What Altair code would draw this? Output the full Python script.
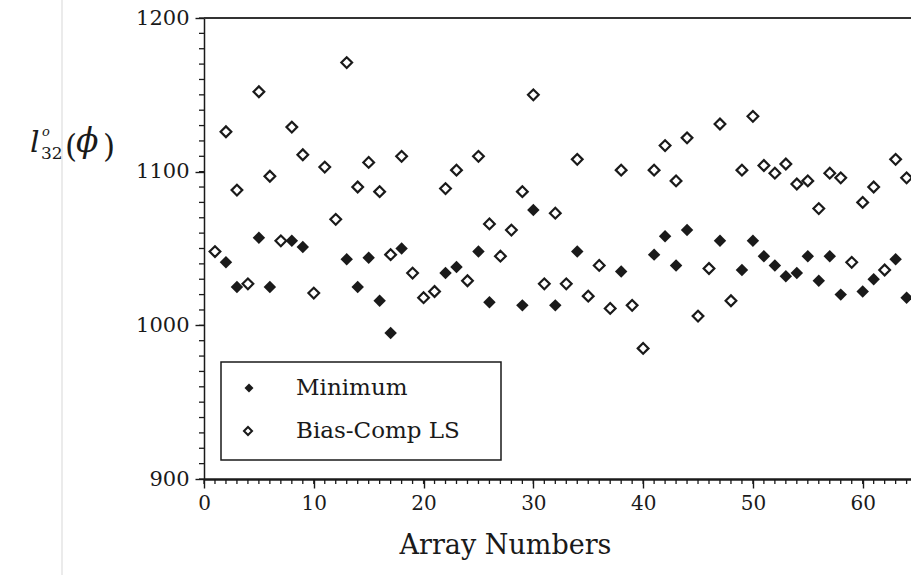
import altair as alt
import pandas as pd

# ---- data ----
arrays_bias = list(range(1, 65))
bias_comp_ls = [1048, 1126, 1088, 1027, 1152, 1097, 1055, 1129, 1111, 1021,
                1103, 1069, 1171, 1090, 1106, 1087, 1046, 1110, 1034, 1018,
                1022, 1089, 1101, 1029, 1110, 1066, 1045, 1062, 1087, 1150,
                1027, 1073, 1027, 1108, 1019, 1039, 1011, 1101, 1013, 985,
                1101, 1117, 1094, 1122, 1006, 1037, 1131, 1016, 1101, 1136,
                1104, 1099, 1105, 1092, 1094, 1076, 1099, 1096, 1041, 1080,
                1090, 1036, 1108, 1096]

arrays_min = [2, 3, 5, 6, 8, 9, 13, 14, 15, 16, 17, 18, 22, 23, 25, 26, 29, 30,
              32, 34, 38, 41, 42, 43, 44, 47, 49, 50, 51, 52, 53, 54, 55, 56,
              57, 58, 60, 61, 63, 64]
minimum = [1041, 1025, 1057, 1025, 1055, 1051, 1043, 1025, 1044, 1016, 995, 1050,
           1034, 1038, 1048, 1015, 1013, 1075, 1013, 1048, 1035, 1046, 1058, 1039,
           1062, 1055, 1036, 1055, 1045, 1039, 1032, 1034, 1045, 1029, 1045, 1020,
           1022, 1030, 1043, 1018]

x_major = [0, 10, 20, 30, 40, 50, 60]
y_major = [900, 1000, 1100, 1200]
x_minor = list(range(0, 65))
y_minor = list(range(900, 1201, 10))

series_names = ["Minimum", "Bias-Comp LS"]
x_title = "Array Numbers"

# ---- layout ----
W, H = 707, 461
FONT = "DejaVu Serif"
INK = "#1a1a1a"

xs = alt.Scale(domain=[0, 64.4], nice=False, zero=False)
ys = alt.Scale(domain=[900, 1200], nice=False, zero=False)

df_b = pd.DataFrame({"array": arrays_bias, "value": bias_comp_ls})
df_m = pd.DataFrame({"array": arrays_min, "value": minimum})
one = pd.DataFrame({"a": [0]})

x_axis = alt.Axis(values=x_major, title=x_title, grid=False, format="d",
                  labelFont=FONT, labelFontSize=20, labelColor=INK, labelPadding=5,
                  labelFlush=False, ticks=True, tickSize=9, tickColor=INK, tickWidth=1.4,
                  domainColor=INK, domainWidth=2.5,
                  titleFont=FONT, titleFontSize=27, titleFontWeight="normal",
                  titleColor=INK, titleX=301, titleY=66, titleBaseline="middle",
                  titleAlign="center")
y_axis = alt.Axis(values=y_major, title=None, grid=False, format="d",
                  labelFont=FONT, labelFontSize=21, labelColor=INK, labelPadding=6,
                  labelFlush=False, ticks=True, tickSize=9, tickColor=INK, tickWidth=1.4,
                  domainColor=INK, domainWidth=1.5)

X = lambda f: alt.X(f, scale=xs, axis=x_axis)
Y = lambda f: alt.Y(f, scale=ys, axis=y_axis)

open_pts = alt.Chart(df_b).mark_point(
    shape="diamond", filled=False, size=115, strokeWidth=2.2, color=INK, opacity=1
).encode(x=X("array:Q"), y=Y("value:Q"))

filled_pts = alt.Chart(df_m).mark_point(
    shape="diamond", filled=True, size=155, color=INK, opacity=1
).encode(x=X("array:Q"), y=Y("value:Q"))

x_minor_ticks = alt.Chart(pd.DataFrame({"tx": x_minor})).mark_rule(
    color=INK, strokeWidth=1.3
).encode(x=X("tx:Q"), y=alt.value(H), y2=alt.value(H + 5))

y_minor_ticks = alt.Chart(pd.DataFrame({"ty": y_minor})).mark_rule(
    color=INK, strokeWidth=1.3
).encode(y=Y("ty:Q"), x=alt.value(0), x2=alt.value(-5))

top_border = alt.Chart(one).mark_rule(color="#333333", strokeWidth=2).encode(
    x=alt.value(0), x2=alt.value(W), y=alt.value(0)
)

scan_line = alt.Chart(one).mark_rule(color="#e4e4e4", strokeWidth=1.5).encode(
    x=alt.value(-142), y=alt.value(-18), y2=alt.value(H + 96)
)

# ---- legend box ----
legend_box = alt.Chart(one).mark_rect(fill="white", stroke=INK, strokeWidth=1.5).encode(
    x=alt.value(17), x2=alt.value(297), y=alt.value(344), y2=alt.value(442)
)
leg_filled = alt.Chart(one).mark_point(shape="diamond", filled=True, size=80,
                                       color=INK, opacity=1).encode(
    x=alt.value(45), y=alt.value(370))
leg_open = alt.Chart(one).mark_point(shape="diamond", filled=False, size=65,
                                     strokeWidth=2, color=INK, opacity=1).encode(
    x=alt.value(44), y=alt.value(413))
leg_t1 = alt.Chart(one).mark_text(text=series_names[0], font=FONT, fontSize=23,
                                  align="left", baseline="middle", color=INK).encode(
    x=alt.value(92), y=alt.value(370))
leg_t2 = alt.Chart(one).mark_text(text=series_names[1], font=FONT, fontSize=23,
                                  align="left", baseline="middle", color=INK).encode(
    x=alt.value(92), y=alt.value(413))

# ---- y-axis title  l°_32(ϕ) ----
def piece(txt, x, y, size, italic=False):
    return alt.Chart(one).mark_text(
        text=txt, font=FONT, fontSize=size, fontStyle="italic" if italic else "normal",
        align="left", baseline="alphabetic", color=INK
    ).encode(x=alt.value(x), y=alt.value(y))

ytitle = [
    piece("l", -174, 134, 30, True),
    piece("o", -162, 118, 13, True),
    piece("32", -163, 141, 17),
    piece("(", -139, 139, 31),
    piece("ϕ", -128, 134, 33, True),
    piece(")", -101, 139, 31),
]

chart = alt.layer(
    scan_line, top_border, x_minor_ticks, y_minor_ticks, open_pts, filled_pts,
    legend_box, leg_filled, leg_open, leg_t1, leg_t2, *ytitle
).properties(
    width=W, height=H,
    autosize=alt.AutoSizeParams(type="none"),
    padding={"left": 204, "top": 18, "right": 0, "bottom": 96},
    background="white",
).configure_view(stroke=None)

chart.save("out.html", embed_options={"renderer": "svg", "actions": False})
